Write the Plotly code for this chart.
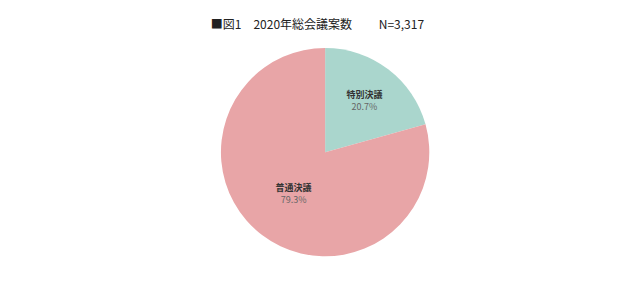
import plotly.graph_objects as go

# 2020年総会議案数の内訳
labels = ["特別決議", "普通決議"]
shares = [20.7, 79.3]
colors = ["#aad6cd", "#e8a5a7"]

text = [f"<b>{l}</b><br><span style='color:#666'>{v}%</span>" for l, v in zip(labels, shares)]

fig = go.Figure(go.Pie(
    labels=labels,
    values=shares,
    text=text,
    textinfo="text",
    textposition="inside",
    insidetextorientation="horizontal",
    textfont=dict(family="Noto Sans CJK JP", size=9, color="#333"),
    marker=dict(colors=colors, line=dict(width=0)),
    sort=False,
    direction="clockwise",
    rotation=0,
    showlegend=False,
    hoverinfo="label+percent",
    domain=dict(x=[0.308, 0.708], y=[0.113, 0.834]),
))

fig.update_layout(
    width=640, height=289,
    margin=dict(l=0, r=0, t=0, b=0),
    paper_bgcolor="white",
    title=dict(text="■図1　2020年総会議案数　　 N=3,317", x=0.496, xanchor="center",
               y=0.915, yanchor="middle",
               font=dict(family="Noto Sans CJK JP", size=12, color="#222")),
)

fig.write_html("out.html")
